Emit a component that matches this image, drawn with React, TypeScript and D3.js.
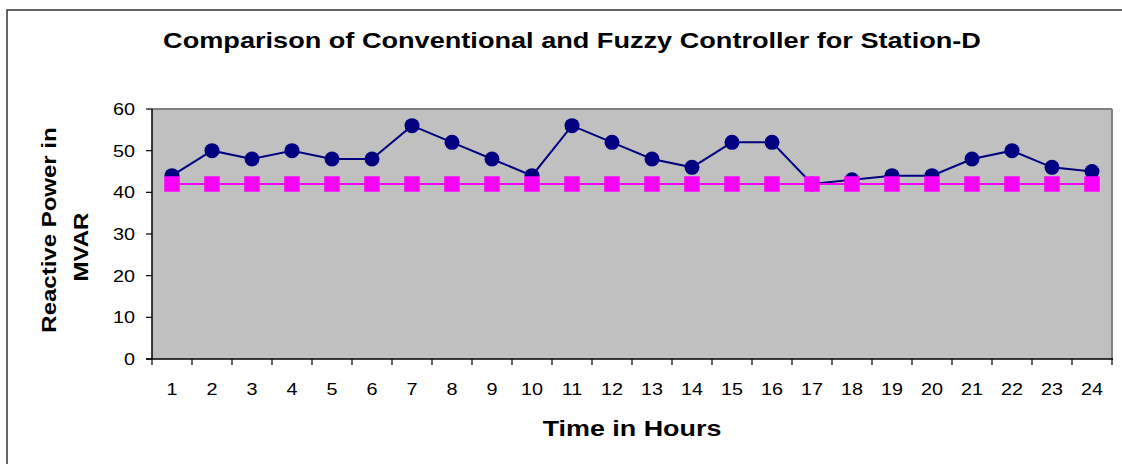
import React from "react";
import * as d3 from "d3";

const hours = ["1","2","3","4","5","6","7","8","9","10","11","12","13","14","15","16","17","18","19","20","21","22","23","24"];
const conventional = [44,50,48,50,48,48,56,52,48,44,56,52,48,46,52,52,42,43,44,44,48,50,46,45];
const fuzzy = [42,42,42,42,42,42,42,42,42,42,42,42,42,42,42,42,42,42,42,42,42,42,42,42];
const yTicks = [0,10,20,30,40,50,60];
const title = "Comparison of Conventional and Fuzzy Controller for Station-D";
const xTitle = "Time in Hours";
const yTitle = ["Reactive Power in", "MVAR"];

const W = 1122, H = 464;
const plot = { left: 152, top: 109, right: 1112, bottom: 359 };
const FONT = "Liberation Sans, Arial, Helvetica, sans-serif";
const SX = 1.2;

function SText({ x, y, size, bold, anchor, children, rotate }: any) {
  const r = rotate ? ` rotate(${rotate})` : "";
  return (
    <g transform={`translate(${x},${y})${r} scale(${SX},1)`}>
      <text x={0} y={0} fontFamily={FONT} fontSize={size} fontWeight={bold ? "bold" : "normal"} textAnchor={anchor || "middle"} fill="#000">
        {children}
      </text>
    </g>
  );
}

export default function App() {
  const x = d3.scaleBand<string>().domain(hours).range([plot.left, plot.right]);
  const y = d3.scaleLinear().domain([0, 60]).range([plot.bottom, plot.top]);
  const cx = (h: string) => (x(h) as number) + x.bandwidth() / 2;
  const lineConv = d3.line<number>().x((_, i) => cx(hours[i])).y((d) => y(d));
  const boundaries = hours.map((h) => x(h) as number).concat([plot.right]);

  return (
    <svg width={W} height={H} style={{ position: "absolute", left: 0, top: 0, display: "block", background: "#fff" }}>
      <rect x={7} y={10} width={1400} height={800} fill="#fff" stroke="#333" strokeWidth={1.5} />
      <SText x={572} y={48} size={22.6} bold>{title}</SText>

      <rect x={plot.left} y={plot.top} width={plot.right - plot.left} height={plot.bottom - plot.top} fill="#C0C0C0" />
      <line x1={plot.left} x2={plot.right} y1={plot.top} y2={plot.top} stroke="#808080" strokeWidth={2} />
      <line x1={plot.right} x2={plot.right} y1={plot.top} y2={plot.bottom} stroke="#808080" strokeWidth={2} />
      <line x1={plot.left} x2={plot.left} y1={plot.top} y2={plot.bottom} stroke="#000" strokeWidth={1.5} />
      <line x1={plot.left - 6} x2={plot.right + 1} y1={plot.bottom} y2={plot.bottom} stroke="#000" strokeWidth={1.5} />

      {yTicks.map((t) => (
        <g key={t}>
          <line x1={plot.left - 6} x2={plot.left} y1={y(t)} y2={y(t)} stroke="#000" strokeWidth={1.2} />
          <SText x={135} y={y(t) + 6} size={16.5} anchor="end">{t}</SText>
        </g>
      ))}
      {boundaries.map((b, i) => (
        <line key={i} x1={b} x2={b} y1={plot.bottom} y2={plot.bottom + 6} stroke="#000" strokeWidth={1.2} />
      ))}
      {hours.map((h) => (
        <SText key={h} x={cx(h)} y={395} size={16.5}>{h}</SText>
      ))}

      <path d={lineConv(conventional) || ""} fill="none" stroke="#000080" strokeWidth={2} />
      {conventional.map((v, i) => (
        <circle key={i} cx={cx(hours[i])} cy={y(v)} r={7.5} fill="#000080" />
      ))}
      <path d={lineConv(fuzzy) || ""} fill="none" stroke="#FF00FF" strokeWidth={2} />
      {fuzzy.map((v, i) => (
        <rect key={i} x={cx(hours[i]) - 7.75} y={y(v) - 7.75} width={15.5} height={15.5} fill="#FF00FF" />
      ))}

      <SText x={632} y={436} size={22.4} bold>{xTitle}</SText>
      <SText x={56} y={230} size={20} bold rotate={-90}>{yTitle[0]}</SText>
      <SText x={88} y={247} size={20} bold rotate={-90}>{yTitle[1]}</SText>
    </svg>
  );
}
